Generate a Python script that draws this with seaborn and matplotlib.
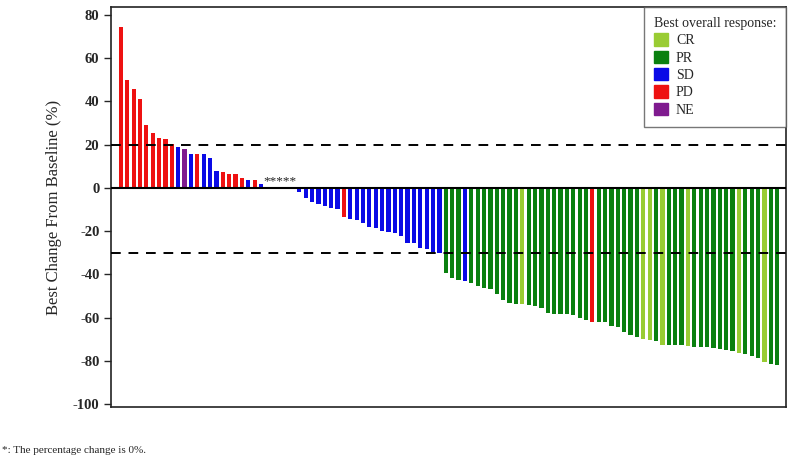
import matplotlib
matplotlib.use("Agg")
import matplotlib.pyplot as plt
import matplotlib.patches as mpatches
import seaborn as sns
import pandas as pd

# best change from baseline (%) per patient, sorted
values = [74.4, 49.8, 45.7, 41.3, 29.3, 25.3, 23.0, 22.4, 20.1, 18.7,
          18.2, 15.6, 15.6, 15.6, 14.0, 8.0, 7.5, 6.3, 6.3, 4.5,
          3.7, 3.6, 1.7, 0, 0, 0, 0, 0, -2.0, -4.8,
          -6.6, -7.4, -8.3, -9.3, -9.9, -13.3, -14.4, -15.0, -16.1, -18.2,
          -18.8, -19.8, -20.6, -21.0, -22.5, -25.3, -25.3, -28.0, -28.5, -29.6,
          -30.0, -39.2, -41.7, -42.6, -42.9, -44.2, -45.2, -46.2, -46.9, -49.2,
          -52.1, -53.4, -53.7, -53.7, -54.1, -54.7, -55.5, -57.8, -58.3, -58.3,
          -58.4, -58.7, -60.3, -61.1, -61.9, -61.9, -62.3, -63.8, -64.3, -66.8,
          -68.0, -69.1, -69.9, -70.5, -70.7, -72.6, -72.7, -72.7, -72.7, -73.1,
          -73.5, -73.7, -73.8, -74.2, -74.7, -75.0, -75.3, -76.2, -76.9, -77.6,
          -78.8, -80.4, -81.5, -81.9]

response = (["PD"] * 9 + ["SD", "NE", "SD", "PD", "SD", "SD", "SD", "PD", "PD", "PD", "PD",
             "SD", "PD", "SD"] + ["SD"] * 5 + ["SD"] * 7 + ["PD"] + ["SD"] * 15
            + ["PR"] * 3 + ["SD"] + ["PR"] * 8 + ["CR"] + ["PR"] * 10 + ["PD"]
            + ["PR"] * 7 + ["CR", "CR", "PR", "CR"] + ["PR"] * 3 + ["CR"]
            + ["PR"] * 7 + ["CR"] + ["PR"] * 3 + ["CR"] + ["PR"] * 2)

zero_pts = [23, 24, 25, 26, 27]  # patients marked with *

categories = ["CR", "PR", "SD", "PD", "NE"]
colors = {"CR": "#99cc33", "PR": "#0a800f", "SD": "#0a0ae6", "PD": "#ee1111", "NE": "#7f1a8f"}

df = pd.DataFrame({"patient": list(range(len(values))), "change": values, "response": response})

sns.set_style("ticks")
plt.rcParams['font.family'] = ['Liberation Serif', 'DejaVu Serif']
plt.rcParams['axes.unicode_minus'] = False

fig = plt.figure(figsize=(8, 4.63), dpi=100)
ax = fig.add_axes([0.139, 0.121, 0.8435, 0.864])

sns.barplot(data=df, x="patient", y="change", hue="response", hue_order=categories,
            palette=colors, dodge=False, width=0.66, legend=False, ax=ax,
            saturation=1, linewidth=0)

# reference lines
ax.axhline(0, color="black", lw=1.5, zorder=5)
ax.axhline(20, color="black", lw=1.4, ls=(0, (5, 4)), zorder=5)
ax.axhline(-30, color="black", lw=1.4, ls=(0, (5, 4)), zorder=5)

# asterisks for the 0% patients
ax.text(sum(zero_pts) / len(zero_pts), 0.3, "*" * len(zero_pts), ha="center", va="bottom",
        fontsize=9.5, color="#222222")

ax.set_xlim(-1.52, len(values) - 1 + 1.39)
ax.set_ylim(-101.4, 83.7)
ax.set_yticks(range(-100, 81, 20))
ax.set_xticks([])
ax.set_xlabel("")
ax.set_ylabel("Best Change From Baseline (%)", fontsize=12, labelpad=8)
ax.tick_params(axis="y", length=5, width=1, labelsize=10.5)
plt.setp(ax.get_yticklabels(), fontweight="bold")
for s in ax.spines.values():
    s.set_linewidth(1.2)
    s.set_color("#222222")

handles = [mpatches.Patch(color=colors[c], label=c) for c in categories]
leg = ax.legend(handles=handles, title="Best overall response:", loc="upper right",
                bbox_to_anchor=(1, 1), borderaxespad=0, fontsize=10, title_fontsize=10,
                frameon=True, fancybox=False, edgecolor="#555555", handlelength=1.0,
                handleheight=1.0, handletextpad=0.6, labelspacing=0.25, borderpad=0.7)
leg._legend_box.align = "left"
leg.get_frame().set_linewidth(1.0)

fig.text(0.002, 0.022, "*: The percentage change is 0%.", fontsize=8)

fig.savefig("out.png", dpi=100)
